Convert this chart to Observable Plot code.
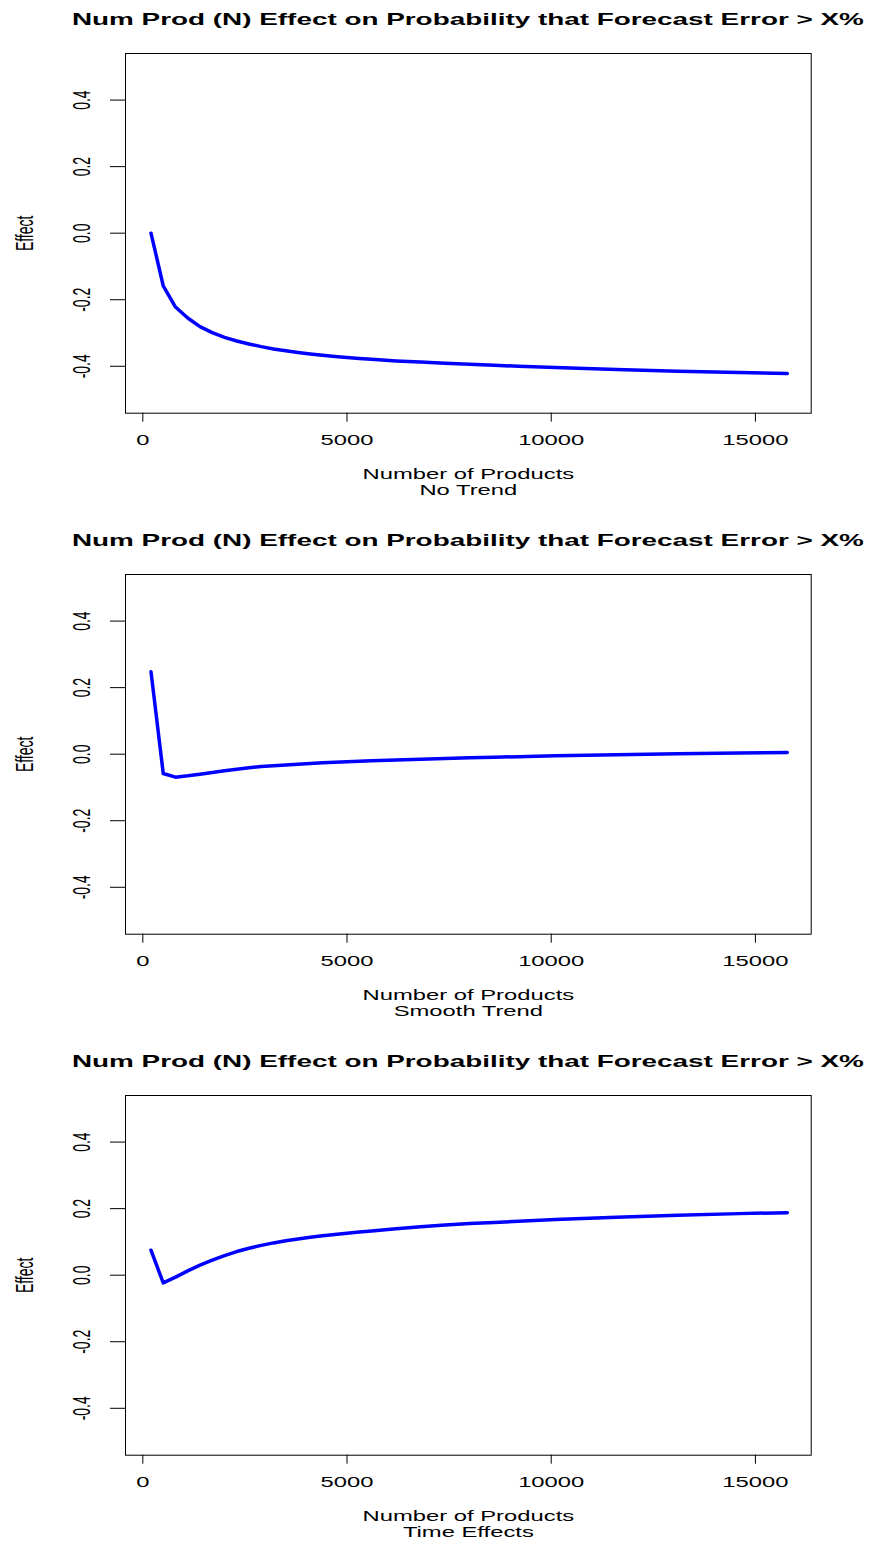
<!DOCTYPE html>
<html><head><meta charset="utf-8">
<script src="https://cdn.jsdelivr.net/npm/d3@7"></script>
<script src="https://cdn.jsdelivr.net/npm/@observablehq/plot@0.6"></script>
<style>
html,body{margin:0;padding:0;background:#fff;overflow:hidden;width:870px;height:1541px;}
.panel{position:absolute;left:0;width:870px;}
.title{position:absolute;left:125px;top:9px;width:686px;text-align:center;font:bold 16.4px "Liberation Sans",Arial,sans-serif;line-height:20px;color:#000;}
.title span{display:inline-block;transform:scaleX(1.7);transform-origin:50% 50%;white-space:nowrap;}
.chart{position:absolute;left:0;top:36px;}
</style></head><body>
<div id="root"></div>
<script>
// ---- data ----
const products = [200, 500, 800, 1100, 1400, 1700, 2000, 2300, 2600, 2900, 3200, 3500, 3800, 4100, 4400, 4700, 5000, 5300, 5600, 6200, 6800, 7400, 8000, 8600, 9200, 10100, 11600, 13100, 14600, 15780];
const noTrend = [0.0, -0.158, -0.222, -0.255, -0.281, -0.299, -0.313, -0.324, -0.333, -0.341, -0.348, -0.3535, -0.3585, -0.363, -0.367, -0.3705, -0.3735, -0.3765, -0.379, -0.384, -0.3875, -0.391, -0.394, -0.397, -0.400, -0.404, -0.410, -0.415, -0.419, -0.422];
const smoothTrend = [0.248, -0.058, -0.069, -0.065, -0.060, -0.055, -0.050, -0.045, -0.041, -0.037, -0.0345, -0.0325, -0.030, -0.028, -0.026, -0.0245, -0.023, -0.0215, -0.020, -0.0175, -0.015, -0.013, -0.011, -0.009, -0.0075, -0.005, -0.0015, 0.0015, 0.0035, 0.005];
const timeEffects = [0.075, -0.023, -0.006, 0.013, 0.030, 0.045, 0.059, 0.071, 0.081, 0.0895, 0.097, 0.1035, 0.109, 0.114, 0.1185, 0.1225, 0.126, 0.1295, 0.133, 0.1395, 0.1455, 0.1505, 0.155, 0.1585, 0.162, 0.167, 0.174, 0.180, 0.185, 0.188];
const panelSubtitles = ["No Trend", "Smooth Trend", "Time Effects"];
const chartTitle = "Num Prod (N) Effect on Probability that Forecast Error > X%";
const xLabel = "Number of Products";
const yLabel = "Effect";
const xTicks = [0, 5000, 10000, 15000];
const yTicks = [-0.4, -0.2, 0.0, 0.2, 0.4];

const seriesList = [noTrend, smoothTrend, timeEffects];
const STRETCH = 1.7;
const font = '"Liberation Sans", Arial, Helvetica, sans-serif';

function stretch(svg, k) {
  svg.querySelectorAll("text").forEach(t => {
    const tr = t.getAttribute("transform") || "";
    if (/rotate\(/.test(tr)) t.setAttribute("transform", tr + ` scale(1,${k})`);
    else t.setAttribute("transform", tr + ` scale(${k},1)`);
  });
}

const root = document.getElementById("root");
seriesList.forEach((series, i) => {
  const panel = document.createElement("div");
  panel.className = "panel";
  panel.style.top = (i * 521) + "px";
  const H = i < 2 ? 485 : 463;
  panel.style.height = (H + 36) + "px";
  const title = document.createElement("div");
  title.className = "title";
  const span = document.createElement("span");
  span.textContent = chartTitle;
  title.appendChild(span);
  panel.appendChild(title);

  const rows = products.map((n, j) => ({n, v: series[j]}));
  const svg = Plot.plot({
    width: 870,
    height: H,
    marginTop: 17,
    marginLeft: 125,
    marginRight: 59.3,
    marginBottom: H - 376.7,
    x: {domain: [-424, 16366]},
    y: {domain: [-0.541, 0.54]},
    style: {fontFamily: font, fontSize: "14px", background: "white", color: "black", overflow: "visible"},
    marks: [
      Plot.frame({stroke: "black", strokeWidth: 1}),
      Plot.axisX({ticks: xTicks, tickSize: 9, tickFormat: () => null, label: null, anchor: "bottom"}),
      Plot.axisY({ticks: yTicks, tickSize: 15, tickFormat: () => null, label: null, anchor: "left"}),
      Plot.text(xTicks, {x: d => d, text: d => String(d), frameAnchor: "bottom", dy: 27, lineAnchor: "middle", fontSize: 14}),
      Plot.text(yTicks, {y: d => d, text: d => d.toFixed(1), frameAnchor: "left", dx: -43.3, rotate: -90, lineAnchor: "middle", textAnchor: "middle", fontSize: 14}),
      Plot.text([yLabel], {text: d => d, frameAnchor: "left", dx: -100, rotate: -90, lineAnchor: "middle", textAnchor: "middle", fontSize: 14}),
      Plot.text([xLabel], {text: d => d, frameAnchor: "bottom", dy: 61.3, lineAnchor: "middle", fontSize: 14}),
      Plot.text([panelSubtitles[i]], {text: d => d, frameAnchor: "bottom", dy: 77.3, lineAnchor: "middle", fontSize: 14}),
      Plot.line(rows, {x: "n", y: "v", stroke: "#0000ff", strokeWidth: 3.5, strokeLinejoin: "round", strokeLinecap: "round"})
    ]
  });
  stretch(svg, STRETCH);
  svg.classList.add("chart");
  svg.style.position = "absolute";
  svg.style.top = "36px";
  svg.style.left = "0px";
  svg.style.maxWidth = "none";
  panel.appendChild(svg);
  root.appendChild(panel);
});
</script>
</body></html>
